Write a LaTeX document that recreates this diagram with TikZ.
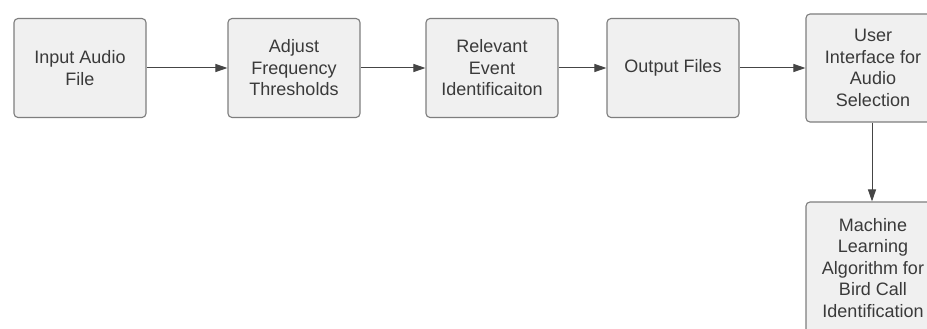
\documentclass[tikz,border=0pt]{standalone}
\usepackage{fontspec}
\setmainfont{Liberation Sans}
\usetikzlibrary{arrows.meta}
\definecolor{boxfill}{HTML}{F0F0F0}
\definecolor{boxline}{HTML}{7E7E7E}
\definecolor{txt}{HTML}{3A3A3A}
\definecolor{arr}{HTML}{454545}
\tikzset{
  stepbox/.style={draw=boxline, line width=1.1pt, fill=boxfill, rounded corners=4pt,
    minimum width=132pt, minimum height=99pt, inner sep=0pt,
    align=center, text=txt, font=\fontsize{18}{21.5}\selectfont},
  flow/.style={draw=arr, line width=1pt, -{Triangle[length=12pt,width=8pt]}}
}
\begin{document}
\begin{tikzpicture}[x=1pt,y=-1pt]
\useasboundingbox (0,0) rectangle (927,329);
\fill[white] (0,0) rectangle (927,329);
\clip (0,0) rectangle (927,329);
% main row of steps
\node[stepbox] (input) at (80,68) {Input Audio\\File};
\node[stepbox] (adjust) at (294,68) {Adjust\\Frequency\\Thresholds};
\node[stepbox] (event) at (492,68) {Relevant\\Event\\Identificaiton};
\node[stepbox] (output) at (673,68) {Output Files};
\node[stepbox, minimum width=134pt, minimum height=108pt] (ui) at (873,68) {User\\Interface for\\Audio\\Selection};
% final step below the interface
\node[stepbox, minimum width=134pt, minimum height=132pt] (ml) at (873,268) {Machine\\Learning\\Algorithm for\\Bird Call\\Identification};
\draw[flow] (input) -- (adjust);
\draw[flow] (adjust) -- (event);
\draw[flow] (event) -- (output);
\draw[flow] (output) -- (ui);
\draw[flow] (ui.south -| 872,0) -- (ml.north -| 872,0);
\end{tikzpicture}
\end{document}
